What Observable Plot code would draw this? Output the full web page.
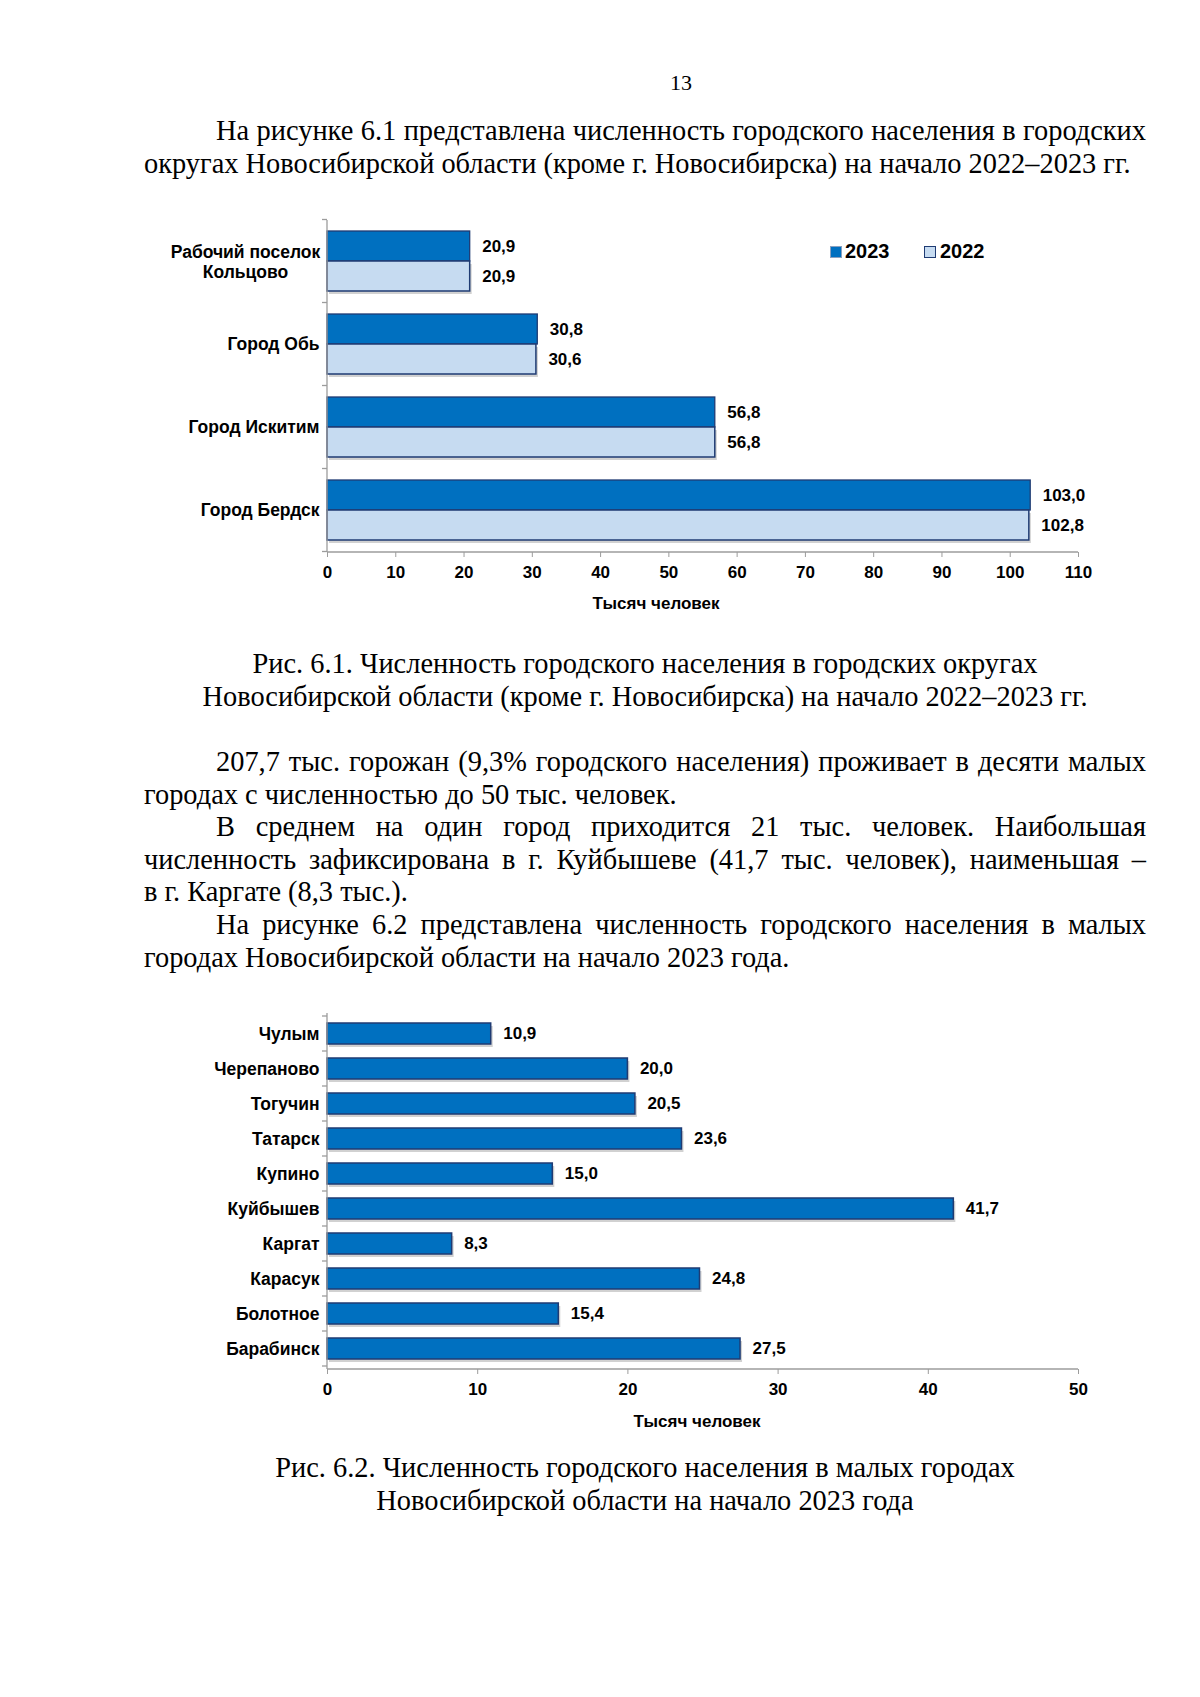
<!DOCTYPE html>
<html><head><meta charset="utf-8">
<script src="https://cdn.jsdelivr.net/npm/d3@7"></script>
<script src="https://cdn.jsdelivr.net/npm/@observablehq/plot@0.6"></script>
<style>
body{margin:0;background:#fff;}
#page{position:relative;width:1200px;height:1697px;background:#fff;font-family:"Liberation Serif","Times New Roman",serif;color:#000;overflow:hidden}
.p{position:absolute;left:144px;width:1002px;font-size:28.4px;line-height:32.6px}
.p div{text-align:justify;text-align-last:justify;word-spacing:-3px}
.p div.ind{text-indent:72px}
.p div.last{text-align-last:left;word-spacing:0}
.p div.c{text-align:center;text-align-last:center;word-spacing:0}
.lab{position:absolute;font-family:"Liberation Sans",Arial,sans-serif;font-weight:bold;font-size:17px;line-height:20px;white-space:nowrap}
.chart{position:absolute;left:0}
.sq{position:absolute;width:10px;height:10px}
</style></head>
<body><div id="page">
<div style="position:absolute;left:0;width:1362px;top:70px;text-align:center;font-size:22px;line-height:26px">13</div>
<div class="p" style="top:115px">
<div class="ind">На рисунке 6.1 представлена численность городского населения в городских</div>
<div class="last">округах Новосибирской области (кроме г. Новосибирска) на начало 2022–2023 гг.</div>
</div>
<div id="c1" class="chart" style="top:200px"></div>
<div class="sq" style="left:830px;top:246px;background:#0070C0;border:1px solid #8aa0bf"></div>
<div class="lab" style="left:845px;top:241px;font-size:20px">2023</div>
<div class="sq" style="left:924px;top:246px;background:#C6DBF1;border:1px solid #1F3B73"></div>
<div class="lab" style="left:940px;top:241px;font-size:20px">2022</div>
<div class="lab" style="left:556px;width:200px;text-align:center;top:594px">Тысяч человек</div>
<div class="p" style="top:648px">
<div class="c">Рис. 6.1. Численность городского населения в городских округах</div>
<div class="c">Новосибирской области (кроме г. Новосибирска) на начало 2022–2023 гг.</div>
</div>
<div class="p" style="top:746px">
<div class="ind">207,7 тыс. горожан (9,3% городского населения) проживает в десяти малых</div>
<div class="last">городах с численностью до 50 тыс. человек.</div>
<div class="ind">В среднем на один город приходится 21 тыс. человек. Наибольшая</div>
<div>численность зафиксирована в г. Куйбышеве (41,7 тыс. человек), наименьшая –</div>
<div class="last">в г. Каргате (8,3 тыс.).</div>
<div class="ind">На рисунке 6.2 представлена численность городского населения в малых</div>
<div class="last">городах Новосибирской области на начало 2023 года.</div>
</div>
<div id="c2" class="chart" style="top:990px"></div>
<div class="lab" style="left:597px;width:200px;text-align:center;top:1412px">Тысяч человек</div>
<div class="p" style="top:1452px">
<div class="c">Рис. 6.2. Численность городского населения в малых городах</div>
<div class="c">Новосибирской области на начало 2023 года</div>
</div>
</div>
<script>
// ---- data ----
const cats1 = ["Рабочий поселок\nКольцово", "Город Обь", "Город Искитим", "Город Бердск"];
const v2023 = [20.9, 30.8, 56.8, 103.0];
const v2022 = [20.9, 30.6, 56.8, 102.8];
const ticks1 = [0, 10, 20, 30, 40, 50, 60, 70, 80, 90, 100, 110];

const cats2 = ["Чулым", "Черепаново", "Тогучин", "Татарск", "Купино", "Куйбышев", "Каргат", "Карасук", "Болотное", "Барабинск"];
const v2 = [10.9, 20.0, 20.5, 23.6, 15.0, 41.7, 8.3, 24.8, 15.4, 27.5];
const ticks2 = [0, 10, 20, 30, 40, 50];

const fmt = v => v.toFixed(1).replace(".", ",");
const C_DARK = "#0070C0", C_LIGHT = "#C6DBF1", C_EDGE = "#1F3B73", C_AXIS = "#9c9c9c";

function axesFrame(cats) {
  return (index, scales, values, dims) => {
    const {width, height, marginLeft, marginRight, marginTop, marginBottom} = dims;
    const y = scales.y;
    const bw = y.bandwidth();
    const step = y(cats[1]) - y(cats[0]);
    const pad = (step - bw) / 2;
    const bounds = cats.map(c => y(c) - pad).concat([y(cats[cats.length - 1]) + bw + pad]);
    const x0 = marginLeft, x1 = width - marginRight, yb = height - marginBottom, yt = marginTop;
    const g = d3.create("svg:g").attr("stroke", C_AXIS).attr("stroke-width", 1.3);
    g.append("line").attr("x1", x0).attr("x2", x0).attr("y1", yt).attr("y2", yb);
    g.append("line").attr("x1", x0).attr("x2", x1).attr("y1", yb).attr("y2", yb);
    for (const b of bounds) g.append("line").attr("x1", x0 - 5).attr("x2", x0).attr("y1", b).attr("y2", b);
    return g.node();
  };
}

const style = {fontFamily: "'Liberation Sans', Arial, sans-serif", fontSize: "17px", fontWeight: "bold", background: "transparent", overflow: "visible", color: "black"};

// ---- chart 1 ----
const d23 = cats1.map((c, i) => ({cat: c, value: v2023[i]}));
const d22 = cats1.map((c, i) => ({cat: c, value: v2022[i]}));
const half1 = 30;
const chart1 = Plot.plot({
  width: 1200, height: 430,
  marginLeft: 327, marginRight: 122, marginTop: 20, marginBottom: 78,
  style,
  x: {domain: [0, 110], axis: null},
  y: {domain: cats1, paddingInner: 0.276, paddingOuter: 0.138, axis: null},
  marks: [
    Plot.barX(d22, {x: "value", y: "cat", insetTop: half1, fill: "#000", fillOpacity: 0.18, dx: 2, dy: 3}),
    Plot.barX(d23, {x: "value", y: "cat", insetBottom: half1, fill: C_DARK, stroke: C_EDGE, strokeWidth: 1.3}),
    Plot.barX(d22, {x: "value", y: "cat", insetTop: half1, fill: C_LIGHT, stroke: C_EDGE, strokeWidth: 1.5}),
    Plot.text(d23, {x: "value", y: "cat", text: d => fmt(d.value), dx: 12, dy: -15, textAnchor: "start", fill: "black"}),
    Plot.text(d22, {x: "value", y: "cat", text: d => fmt(d.value), dx: 12, dy: 15, textAnchor: "start", fill: "black"}),
    Plot.text(cats1.slice(1), {y: d => d, text: d => d, frameAnchor: "left", dx: -8, textAnchor: "end", fontSize: 17.5, fill: "black"}),
    Plot.text(cats1.slice(0, 1), {y: d => d, text: d => d, frameAnchor: "left", dx: -82, textAnchor: "middle", lineHeight: 1.15, fontSize: 17.5, fill: "black"}),
    axesFrame(cats1),
    Plot.axisX({ticks: ticks1, tickSize: 5, tickPadding: 8, stroke: C_AXIS, fill: "black", label: null, tickFormat: d => d})
  ]
});
document.getElementById("c1").appendChild(chart1);

// ---- chart 2 ----
const dd2 = cats2.map((c, i) => ({cat: c, value: v2[i]}));
const chart2 = Plot.plot({
  width: 1200, height: 470,
  marginLeft: 327, marginRight: 122, marginTop: 23, marginBottom: 91,
  style,
  x: {domain: [0, 50], axis: null},
  y: {domain: cats2, paddingInner: 0.41, paddingOuter: 0.205, axis: null},
  marks: [
    Plot.barX(dd2, {x: "value", y: "cat", fill: "#000", fillOpacity: 0.18, dx: 2, dy: 3}),
    Plot.barX(dd2, {x: "value", y: "cat", fill: C_DARK, stroke: C_EDGE, strokeWidth: 1.5}),
    Plot.text(dd2, {x: "value", y: "cat", text: d => fmt(d.value), dx: 12, textAnchor: "start", fill: "black"}),
    Plot.text(cats2, {y: d => d, text: d => d, frameAnchor: "left", dx: -8, textAnchor: "end", fontSize: 17.5, fill: "black"}),
    axesFrame(cats2),
    Plot.axisX({ticks: ticks2, tickSize: 5, tickPadding: 8, stroke: C_AXIS, fill: "black", label: null, tickFormat: d => d})
  ]
});
document.getElementById("c2").appendChild(chart2);
</script>
</body></html>
